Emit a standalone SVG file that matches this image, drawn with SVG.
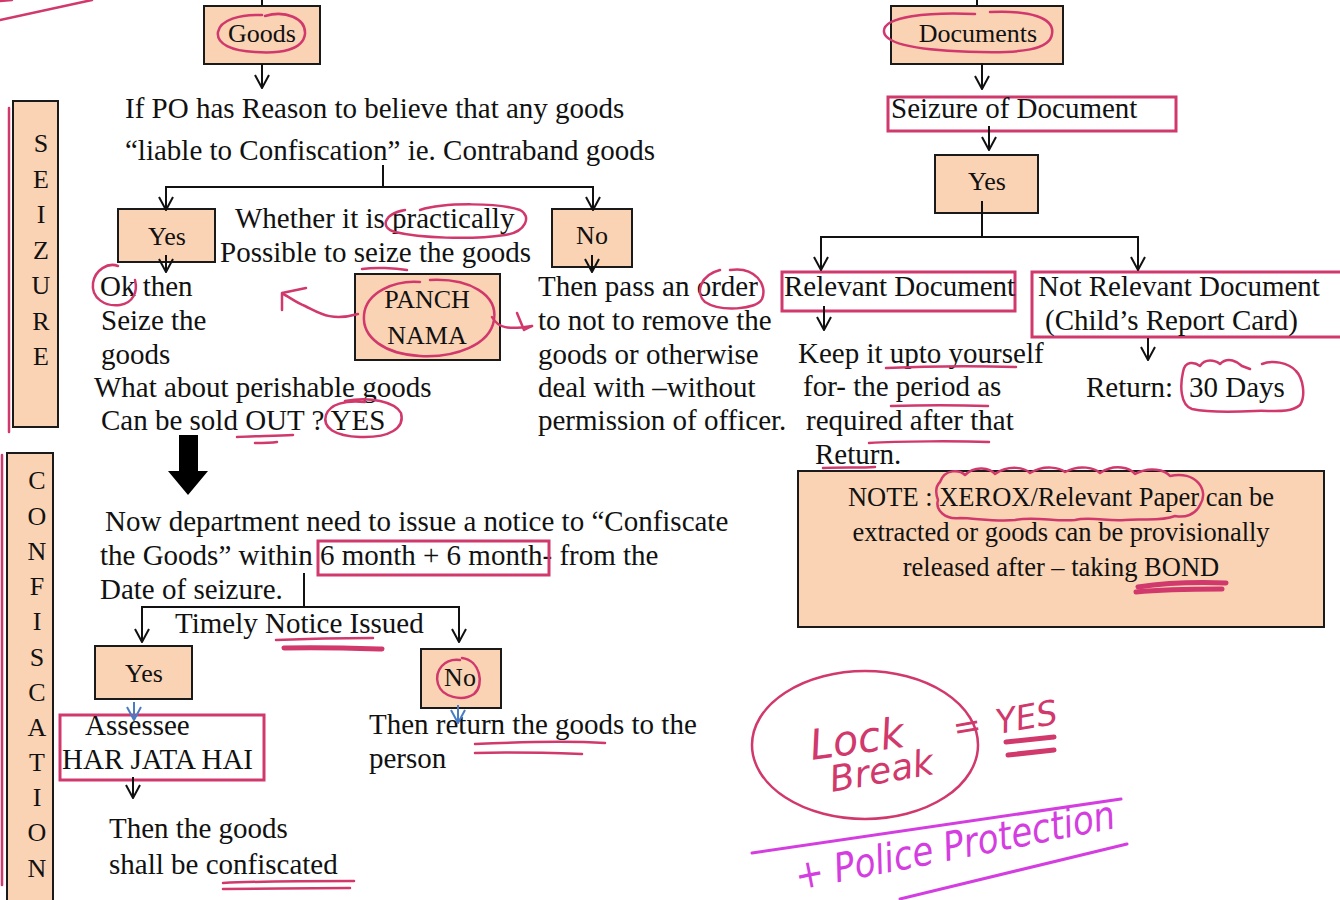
<svg xmlns="http://www.w3.org/2000/svg" width="1340" height="900" viewBox="0 0 1340 900">
<style>
.box{fill:#FAD3B4;stroke:#1a1a1a;stroke-width:2}
.t{font-family:"Liberation Serif","Times New Roman",serif;font-size:29px;fill:#111}
.bl{font-family:"Liberation Serif","Times New Roman",serif;font-size:26px;fill:#111;text-anchor:middle}
.vl{font-family:"Liberation Serif","Times New Roman",serif;font-size:26px;fill:#111;text-anchor:middle}
.nt{font-family:"Liberation Serif","Times New Roman",serif;font-size:26.5px;fill:#111;text-anchor:middle}
.cn{fill:none;stroke:#111;stroke-width:2;marker-end:url(#v)}
.cl{fill:none;stroke:#111;stroke-width:2}
.bc{fill:none;stroke:#4A7CC4;stroke-width:2;marker-end:url(#vb)}
.pk{fill:none;stroke:#D1386B;stroke-width:2.5;stroke-linecap:round;stroke-linejoin:round}
.pkr{fill:none;stroke:#D1386B;stroke-width:3}
.pkt{fill:none;stroke:#D1386B;stroke-width:5;stroke-linecap:round}
.mg{fill:none;stroke:#D43EE0;stroke-width:3;stroke-linecap:round}
.hw{font-family:"DejaVu Sans","Liberation Sans",sans-serif;font-style:italic;font-weight:300}
</style>
<defs>
<marker id="v" viewBox="-1 -8 15 16" refX="13" refY="0" markerWidth="15" markerHeight="16" markerUnits="userSpaceOnUse" orient="auto">
<path d="M0,-7 L13,0 L0,7" fill="none" stroke="#111" stroke-width="2"/>
</marker>
<marker id="vb" viewBox="-1 -8 15 16" refX="13" refY="0" markerWidth="15" markerHeight="16" markerUnits="userSpaceOnUse" orient="auto">
<path d="M0,-7 L13,0 L0,7" fill="none" stroke="#4A7CC4" stroke-width="2"/>
</marker>
</defs>
<rect width="1340" height="900" fill="#fff"/>

<!-- side labels -->
<g id="seizure-label">
<rect class="box" x="13" y="101" width="45" height="326"/>
<text class="vl" x="41" y="152">S</text>
<text class="vl" x="41" y="188">E</text>
<text class="vl" x="41" y="223">I</text>
<text class="vl" x="41" y="259">Z</text>
<text class="vl" x="41" y="294">U</text>
<text class="vl" x="41" y="330">R</text>
<text class="vl" x="41" y="365">E</text>
</g>
<g id="confiscation-label">
<rect class="box" x="7" y="453" width="46" height="452"/>
<text class="vl" x="37" y="489">C</text>
<text class="vl" x="37" y="525">O</text>
<text class="vl" x="37" y="560">N</text>
<text class="vl" x="37" y="595">F</text>
<text class="vl" x="37" y="630">I</text>
<text class="vl" x="37" y="666">S</text>
<text class="vl" x="37" y="701">C</text>
<text class="vl" x="37" y="736">A</text>
<text class="vl" x="37" y="771">T</text>
<text class="vl" x="37" y="806">I</text>
<text class="vl" x="37" y="841">O</text>
<text class="vl" x="37" y="877">N</text>
</g>

<!-- left flow -->
<g id="goods">
<rect class="box" x="204" y="6" width="116" height="58"/>
<text class="bl" x="262" y="42">Goods</text>
</g>
<g id="reason-text">
<text class="t" x="125" y="118">If PO has Reason to believe that any goods</text>
<text class="t" x="125" y="160">“liable to Confiscation” ie. Contraband goods</text>
</g>
<g id="yes1">
<rect class="box" x="118" y="209" width="97" height="53"/>
<text class="bl" x="167" y="245">Yes</text>
</g>
<g id="whether-text">
<text class="t" x="235" y="228">Whether it is practically</text>
<text class="t" x="220" y="262">Possible to seize the goods</text>
</g>
<g id="no1">
<rect class="box" x="552" y="209" width="80" height="58"/>
<text class="bl" x="592" y="244">No</text>
</g>
<g id="ok-text">
<text class="t" x="100" y="296">Ok then</text>
<text class="t" x="101" y="330">Seize the</text>
<text class="t" x="101" y="364">goods</text>
<text class="t" x="94" y="397">What about perishable goods</text>
<text class="t" x="101" y="430">Can be sold OUT ? YES</text>
</g>
<g id="panchnama">
<rect class="box" x="355" y="274" width="145" height="86"/>
<text class="bl" x="427" y="308">PANCH</text>
<text class="bl" x="427" y="344">NAMA</text>
</g>
<g id="order-text">
<text class="t" x="538" y="296">Then pass an order</text>
<text class="t" x="538" y="330">to not to remove the</text>
<text class="t" x="538" y="364">goods or otherwise</text>
<text class="t" x="538" y="397">deal with –without</text>
<text class="t" x="538" y="430">permission of officer.</text>
</g>
<g id="notice-text">
<text class="t" x="105" y="531">Now department need to issue a notice to “Confiscate</text>
<text class="t" x="100" y="565">the Goods” within 6 month + 6 month- from the</text>
<text class="t" x="100" y="599">Date of seizure.</text>
</g>
<g id="timely-label">
<text class="t" x="175" y="633">Timely Notice Issued</text>
</g>
<g id="yes2">
<rect class="box" x="95" y="646" width="97" height="53"/>
<text class="bl" x="144" y="682">Yes</text>
</g>
<g id="no2">
<rect class="box" x="421" y="649" width="80" height="59"/>
<text class="bl" x="460" y="686">No</text>
</g>
<g id="assessee">
<rect class="pkr" x="60" y="715" width="204" height="65"/>
<text class="t" x="85" y="735">Assessee</text>
<text class="t" x="62" y="769">HAR JATA HAI</text>
</g>
<g id="confiscated-text">
<text class="t" x="109" y="838">Then the goods</text>
<text class="t" x="109" y="874">shall be confiscated</text>
</g>
<g id="return-goods-text">
<text class="t" x="369" y="734">Then return the goods to the</text>
<text class="t" x="369" y="768">person</text>
</g>

<!-- right flow -->
<g id="documents">
<rect class="box" x="891" y="6" width="172" height="58"/>
<text class="bl" x="978" y="42">Documents</text>
</g>
<g id="seizure-document">
<rect class="pkr" x="888" y="97" width="288" height="34"/>
<text class="t" x="891" y="118">Seizure of Document</text>
</g>
<g id="yes3">
<rect class="box" x="935" y="155" width="103" height="58"/>
<text class="bl" x="987" y="190">Yes</text>
</g>
<g id="relevant">
<rect class="pkr" x="782" y="272" width="233" height="39"/>
<text class="t" x="784" y="296">Relevant Document</text>
</g>
<g id="not-relevant">
<rect class="pkr" x="1032" y="272" width="312" height="65"/>
<text class="t" x="1038" y="296">Not Relevant Document</text>
<text class="t" x="1045" y="330">(Child’s Report Card)</text>
</g>
<g id="keep-text">
<text class="t" x="798" y="363">Keep it upto yourself</text>
<text class="t" x="803" y="396">for- the period as</text>
<text class="t" x="806" y="430">required after that</text>
<text class="t" x="815" y="464">Return.</text>
</g>
<g id="return-30">
<text class="t" x="1086" y="397">Return: <tspan x="1189">30 Days</tspan></text>
</g>
<g id="note">
<rect class="box" x="798" y="471" width="526" height="156"/>
<text class="nt" x="1061" y="506">NOTE : XEROX/Relevant Paper can be</text>
<text class="nt" x="1061" y="541">extracted or goods can be provisionally</text>
<text class="nt" x="1061" y="576">released after – taking BOND</text>
</g>

<!-- connectors -->
<g id="connectors">
<path class="cl" d="M262,0 V5"/>
<path class="cn" d="M262,64 V88"/>
<path class="cl" d="M383,165 V187"/>
<path class="cn" d="M383,187 H166 V210"/>
<path class="cn" d="M383,187 H593 V210"/>
<path class="cn" d="M166,255 V272"/>
<path class="cn" d="M592,255 V272"/>
<polygon points="179,435 198,435 198,471 208,471 188,495 168,471 179,471" fill="#000"/>
<path class="cl" d="M304,573 V607"/>
<path class="cn" d="M304,607 H142 V642"/>
<path class="cn" d="M304,607 H459 V642"/>
<path class="bc" d="M134,702 V720"/>
<path class="bc" d="M458,705 V723"/>
<path class="cn" d="M133,777 V798"/>
<path class="cl" d="M977,0 V5"/>
<path class="cn" d="M982,63 V89"/>
<path class="cn" d="M989,126 V150"/>
<path class="cl" d="M982,201 V237"/>
<path class="cn" d="M982,237 H821 V270"/>
<path class="cn" d="M982,237 H1138 V270"/>
<path class="cn" d="M824,306 V330"/>
<path class="cn" d="M1148,338 V360"/>
</g>

<!-- pink annotations -->
<g id="annotations">
<path class="pk" d="M0,20 L92,0"/>
<path class="pk" d="M0,1 L12,0"/>
<path class="pk" stroke-width="3" d="M9,108 V432"/>
<path class="pk" stroke-width="3" d="M2,455 V885"/>
<path class="pk" d="M265,16 C285,10 306,18 305,34 C303,50 280,54 255,52 C232,51 216,44 218,32 C220,20 240,14 262,15"/>
<path class="pk" d="M420,210 C445,202 500,203 520,210 C532,216 526,232 505,235 C470,240 420,238 395,232 C380,228 383,214 405,210"/>
<path class="pk" d="M362,269 C375,267 395,268 407,270"/>
<path class="pk" d="M118,266 C108,262 95,270 93,283 C91,298 105,307 120,305 C133,303 138,292 135,280"/>
<path class="pk" d="M430,280 C470,278 498,295 494,320 C490,345 455,358 420,356 C385,354 362,338 364,315 C366,292 395,280 420,282"/>
<path class="pk" d="M358,314 C330,322 318,312 305,306 C295,302 288,296 283,294"/>
<path class="pk" d="M282,310 L282,293 L306,288"/>
<path class="pk" d="M492,317 C498,328 508,330 532,326"/>
<path class="pk" d="M517,313 L524,330 L532,326"/>
<path class="pk" d="M730,270 C755,266 768,285 762,299 C756,310 720,312 705,302 C695,293 700,275 720,270"/>
<path class="pk" d="M345,401 C370,396 395,402 401,413 C405,428 390,438 360,437 C335,436 322,428 326,415 C330,404 345,400 365,402"/>
<path class="pk" d="M237,437 C255,436 275,436 293,435"/>
<path class="pk" d="M255,443 C262,443 270,443 277,442"/>
<rect class="pkr" x="318" y="541" width="231" height="34"/>
<path class="pk" d="M276,640 C300,639 340,638 373,638"/>
<path class="pkt" d="M284,648 C320,647 350,648 382,649"/>
<path class="pk" d="M462,658 C480,660 485,685 474,694 C462,702 442,697 438,684 C434,670 445,658 460,660"/>
<path class="pk" d="M475,744 C520,742 570,741 605,743"/>
<path class="pk" d="M475,753 C510,752 550,753 582,754"/>
<path class="pk" d="M223,883 C260,881 320,881 354,881"/>
<path class="pk" d="M223,889 C260,889 320,888 350,888"/>
<path class="pk" d="M990,12 C1030,10 1055,18 1052,34 C1050,50 1020,53 980,52 C930,51 886,46 884,32 C882,16 930,12 975,14"/>
<path class="pk" d="M886,368 C930,366 980,366 1016,367"/>
<path class="pk" d="M891,406 C920,405 960,405 988,406"/>
<path class="pk" d="M869,443 C900,441 960,441 989,442"/>
<path class="pk" d="M823,468 C840,467 860,468 875,467"/>
<path class="pk" d="M1183,372 C1185,360 1195,362 1200,366 C1205,358 1215,360 1220,364 C1228,356 1238,362 1242,366 L1250,369 M1262,364 C1272,360 1288,362 1296,371 C1303,378 1306,396 1300,405 C1290,414 1270,410 1255,411 C1235,412 1210,413 1192,409 C1180,405 1180,385 1183,372"/>
<path class="pk" d="M940,482 C945,468 960,470 965,475 C975,465 990,468 995,474 C1010,464 1025,468 1030,473 C1045,464 1060,468 1065,472 C1080,464 1095,468 1100,473 C1115,463 1130,468 1135,474 C1150,466 1165,470 1170,476 C1195,470 1210,490 1200,505 C1195,515 1185,518 1175,516 C1160,522 1140,518 1125,520 C1110,522 1090,516 1075,520 C1055,522 1035,516 1015,520 C995,522 975,518 960,518 C945,520 935,510 938,500 C935,492 936,486 940,482"/>
<path class="pkt" d="M1138,587 C1165,583 1200,582 1226,583"/>
<path class="pkt" d="M1136,592 C1165,589 1200,589 1222,589"/>
<ellipse class="pk" stroke-width="3" cx="865" cy="745" rx="113" ry="74"/>
<text class="hw" x="812" y="760" font-size="42" fill="#D1386B" transform="rotate(-8 812 760)" textLength="95" lengthAdjust="spacingAndGlyphs">Lock</text>
<text class="hw" x="832" y="792" font-size="36" fill="#D1386B" transform="rotate(-10 832 792)" textLength="105" lengthAdjust="spacingAndGlyphs">Break</text>
<text class="hw" x="955" y="740" font-size="34" fill="#D1386B" transform="rotate(-10 955 740)">=</text>
<text class="hw" x="998" y="734" font-size="34" fill="#D1386B" transform="rotate(-10 998 734)" textLength="62" lengthAdjust="spacingAndGlyphs">YES</text>
<path class="pkt" stroke-width="4" d="M1006,742 L1054,737"/>
<path class="pkt" stroke-width="4" d="M1008,755 L1054,750"/>
<path class="mg" d="M752,853 L1121,799"/>
<path class="mg" d="M900,899 L1127,844"/>
<text class="hw" x="798" y="890" font-size="40" fill="#D43EE0" transform="rotate(-11 798 890)" textLength="325" lengthAdjust="spacingAndGlyphs">+ Police Protection</text>
</g>
</svg>
